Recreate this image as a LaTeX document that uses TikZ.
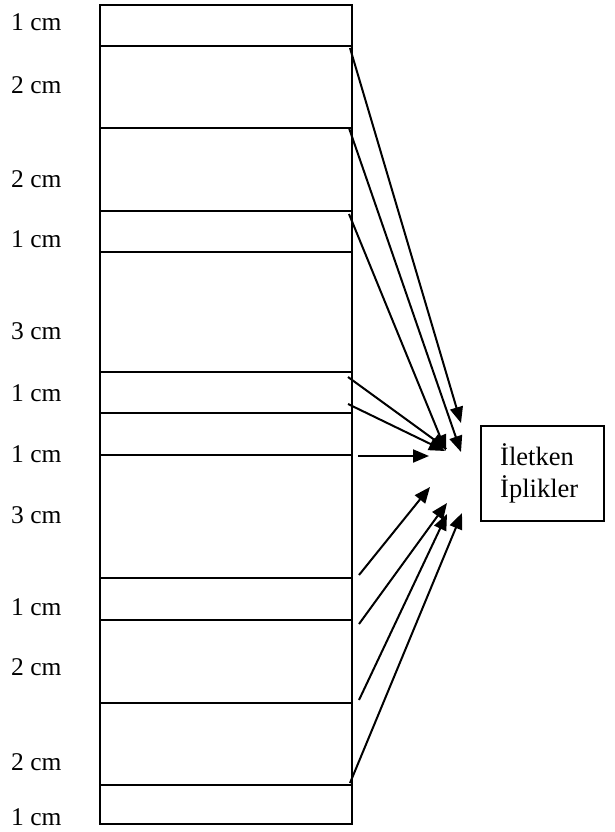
\documentclass[tikz,border=0pt]{standalone}
\usepackage{fontspec}
\setmainfont{Liberation Serif}
\usetikzlibrary{arrows.meta}
\begin{document}
\begin{tikzpicture}[x=1pt,y=-1pt,
  conn/.style={line width=2pt,-{Triangle[length=16pt,width=13pt]}},
  lbl/.style={anchor=base west,inner sep=0pt,font=\fontsize{25.5}{30}\selectfont},
  boxtxt/.style={anchor=base west,inner sep=0pt,font=\fontsize{26.5}{31}\selectfont},
  frame/.style={line width=2.1pt}]
\useasboundingbox (0,0) rectangle (614,832);
% strip
\draw[frame] (100,5) rectangle (352,824);
\foreach \y in {46,128,211,252,372,413,455,578,620,703,785}
  \draw[frame] (100,\y) -- (352,\y);
% labels
\node[lbl] (l1) at (11,31) {1 cm};
\node[lbl] (l2) at (11,94) {2 cm};
\node[lbl] (l3) at (11,187) {2 cm};
\node[lbl] (l4) at (11,247) {1 cm};
\node[lbl] (l5) at (11,339) {3 cm};
\node[lbl] (l6) at (11,401) {1 cm};
\node[lbl] (l7) at (11,462) {1 cm};
\node[lbl] (l8) at (11,523) {3 cm};
\node[lbl] (l9) at (11,615) {1 cm};
\node[lbl] (l10) at (11,675) {2 cm};
\node[lbl] (l11) at (11,770) {2 cm};
\node[lbl] (l12) at (11,825) {1 cm};
% box
\node[draw,line width=1.8pt,minimum width=123,minimum height=95,anchor=north west,inner sep=0pt] (box) at (480,425) {};
\node[boxtxt] (t1) at (500,465) {İletken};
\node[boxtxt] (t2) at (500,497) {İplikler};
% arrow end points
\coordinate (s1) at (350,48);   \coordinate (e1) at (461,423);
\coordinate (s2) at (349,128);  \coordinate (e2) at (461,452);
\coordinate (s3) at (349,214);  \coordinate (e3) at (446,451);
\coordinate (s4) at (348,377);  \coordinate (e4) at (447,449);
\coordinate (s5) at (348,404);  \coordinate (e5) at (445,451);
\coordinate (s6) at (358,456);  \coordinate (e6) at (429,456);
\coordinate (s7) at (359,575);  \coordinate (e7) at (430,487);
\coordinate (s8) at (359,624);  \coordinate (e8) at (447,503);
\coordinate (s9) at (359,700);  \coordinate (e9) at (447,514);
\coordinate (s10) at (350,783); \coordinate (e10) at (462,513);
\foreach \i in {1,...,10} \draw[conn] (s\i) -- (e\i);
\end{tikzpicture}
\end{document}
